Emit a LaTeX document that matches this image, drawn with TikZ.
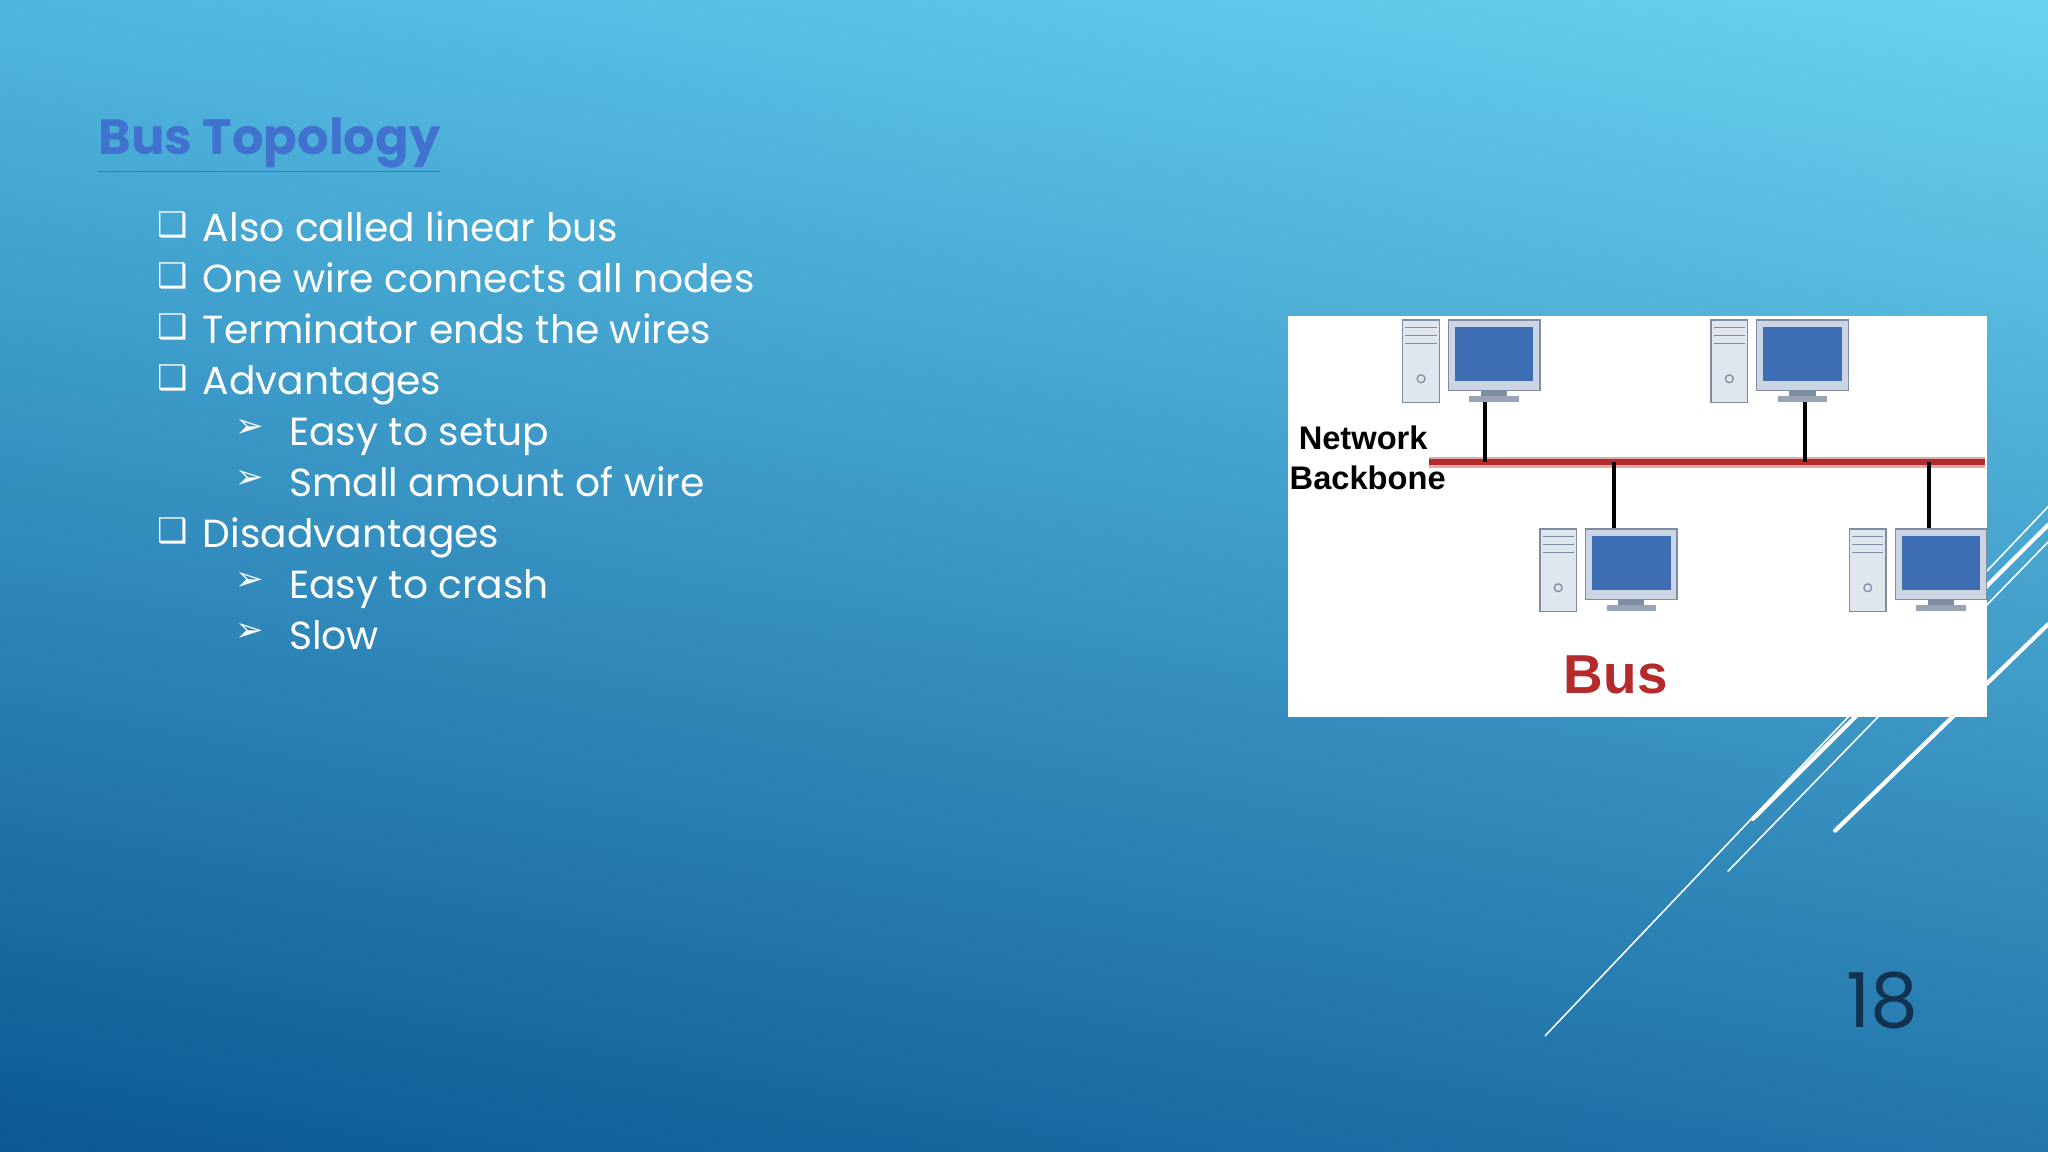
\documentclass[tikz,border=0pt]{standalone}
\usepackage{fontspec}
\usetikzlibrary{shadings}
\setmainfont{Poppins}
\newfontfamily\symf{DejaVu Sans}
\newfontfamily\arialb{Liberation Sans}
\definecolor{titleblue}{HTML}{4272CF}
\definecolor{busred}{HTML}{B52A2A}
\definecolor{frameg}{HTML}{CBD5E3}
\definecolor{frameo}{HTML}{7F8DA3}
\definecolor{scr}{HTML}{3D6DB2}
\definecolor{navy}{HTML}{12324F}
\definecolor{bgul}{HTML}{50B6E0}
\definecolor{bgur}{HTML}{6AD2F0}
\definecolor{bgll}{HTML}{0C5892}
\definecolor{bglr}{HTML}{2276AC}
\begin{document}
\begin{tikzpicture}[x=0.5pt,y=-0.5pt,
  bul/.style={anchor=base west,text=white,font=\fontsize{15}{18}\selectfont,inner sep=0pt},
  mark1/.style={anchor=base west,text=white,font=\symf\fontsize{13}{15}\selectfont,inner sep=0pt},
  deco/.style={draw=white,line cap=round},
  drop/.style={line width=1.6pt,black}]
\useasboundingbox (0,0) rectangle (1568,882);
\shade[upper left=bgul, upper right=bgur, lower left=bgll, lower right=bglr] (0,0) rectangle (1568,882);
% title
\node[anchor=base west,inner sep=0pt,text=titleblue,font=\bfseries\fontsize{19}{22}\selectfont] (title) at (75,118) {\underline{Bus Topology}};
% bullets
\foreach \t/\y [count=\i] in {Also called linear bus/185,One wire connects all nodes/224,Terminator ends the wires/263,Advantages/302,Disadvantages/419}{
  \node[mark1] (m\i) at (120,\y-4) {❑};
  \node[bul] (b\i) at (155,\y) {\t};}
\foreach \t/\y [count=\i] in {Easy to setup/341,Small amount of wire/380,Easy to crash/458,Slow/497}{
  \node[mark1] (a\i) at (180,\y-6) {➢};
  \node[bul] (s\i) at (221,\y) {\t};}
% decorative lines
\draw[deco,line width=0.6pt] (1183,793) -- (1568,388);
\draw[deco,line width=0.6pt] (1323,667) -- (1568,415);
\draw[deco,line width=1.6pt] (1342,627) -- (1568,402);
\draw[deco,line width=1.6pt] (1405,636) -- (1568,478);
% picture box
\fill[white] (986,242) rectangle (1521,549);
\draw[busred!40,line width=4pt] (1094,354) -- (1520,354);
\draw[busred,line width=2.2pt] (1094,354) -- (1520,354);
\foreach \n/\x/\ya/\yb in {d1/1137/308/354,d2/1382/308/354,d3/1236/354/406,d4/1477/354/406}{
  \draw[drop] (\x,\ya) -- (\x,\yb);}
% computers
\foreach \n/\x/\y in {p1/1074/245,p2/1310/245,p3/1179/405,p4/1416/405}{
  \begin{scope}[shift={(\x,\y)}]
  \filldraw[fill=frameg!60,draw=frameo,line width=0.5pt] (0,0) rectangle (28,63);
  \foreach \k in {6,12,18} \draw[frameo,line width=0.4pt] (2,\k) -- (26,\k);
  \draw[frameo,line width=0.5pt] (14,45) circle (3);
  \filldraw[fill=frameg,draw=frameo,line width=0.5pt] (35,0) rectangle (105,54);
  \fill[scr] (40,5) rectangle (100,47);
  \fill[frameo] (60,54) rectangle (80,58);
  \fill[frameo!80] (51,58) rectangle (89,63);
  \end{scope}}
\node[inner sep=0pt,font=\arialb\bfseries\fontsize{12.5}{15}\selectfont,align=left,anchor=north west] (nb) at (987,326) {~Network\\Backbone};
\node[inner sep=0pt,font=\arialb\bfseries\fontsize{21}{24}\selectfont,text=busred] (bus) at (1237,517) {Bus};
\node[anchor=base,inner sep=0pt,text=navy,font=\fontsize{29}{32}\selectfont] (pg) at (1441,787) {18};
\end{tikzpicture}
\end{document}
